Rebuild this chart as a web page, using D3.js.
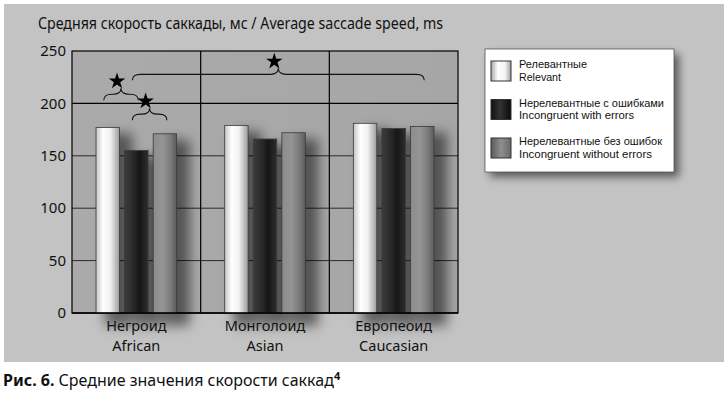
<!DOCTYPE html>
<html>
<head>
<meta charset="utf-8">
<script src="https://cdn.jsdelivr.net/npm/d3@7"></script>
<style>
  body { margin: 0; background: #fff; }
  svg { display: block; font-family: "Noto Sans", "Open Sans", sans-serif; }
</style>
</head>
<body>
<svg width="724" height="397"></svg>
<script>
// data
const groups = ["Негроид", "Монголоид", "Европеоид"];
const groupsEn = ["African", "Asian", "Caucasian"];
const series = ["rel", "incErr", "incNoErr"];
const seriesRu = ["Релевантные", "Нерелевантные с ошибками", "Нерелевантные без ошибок"];
const seriesEn = ["Relevant", "Incongruent with errors", "Incongruent without errors"];
const relevant = [177, 179, 181];
const incongruentErr = [155, 166, 176];
const incongruentNoErr = [171, 172, 178];
const yTicks = [0, 50, 100, 150, 200, 250];
// significance braces: [group, series] -> [group, series], at value level
const braces = [
  { from: [0, 0], to: [0, 1], level: 203 },
  { from: [0, 1], to: [0, 2], level: 184 },
  { from: [0, 1], to: [2, 2], level: 222 }
];

const values = [relevant, incongruentErr, incongruentNoErr];

const svg = d3.select("svg");
const defs = svg.append("defs");

// plot box
const pLeft = 72, pRight = 458, pTop = 51, pBottom = 313;

const y = d3.scaleLinear().domain([0, 250]).range([pBottom, pTop]);
const x0 = d3.scaleBand().domain(groups).range([pLeft, pRight]);
const x1 = d3.scaleBand().domain(series).range([0, x0.bandwidth()])
  .paddingInner(0.18).paddingOuter(0.84);

// gradients for the cylinder-like bars
function grad(id, stops) {
  const g = defs.append("linearGradient").attr("id", id)
    .attr("x1", "0%").attr("x2", "100%").attr("y1", "0%").attr("y2", "0%");
  stops.forEach(s => g.append("stop").attr("offset", s[0]).attr("stop-color", s[1]));
}
grad("g-rel", [["0%", "#c4c4c4"], ["30%", "#ffffff"], ["60%", "#f2f2f2"], ["100%", "#9c9c9c"]]);
grad("g-incErr", [["0%", "#3c3c3c"], ["35%", "#2a2a2a"], ["65%", "#161616"], ["100%", "#2e2e2e"]]);
grad("g-incNoErr", [["0%", "#8c8c8c"], ["40%", "#959595"], ["75%", "#7a7a7a"], ["100%", "#5c5c5c"]]);
grad("g-bg", [["0%", "#aaaaaa"], ["100%", "#a6a6a6"]]);

const blur = defs.append("filter").attr("id", "shadow")
  .attr("x", "-50%").attr("y", "-20%").attr("width", "250%").attr("height", "150%");
blur.append("feGaussianBlur").attr("stdDeviation", 6);

const boxShadow = defs.append("filter").attr("id", "boxshadow")
  .attr("x", "-20%").attr("y", "-20%").attr("width", "150%").attr("height", "150%");
boxShadow.append("feGaussianBlur").attr("stdDeviation", 4);

// outer panel
svg.append("rect").attr("x", 4).attr("y", 4).attr("width", 720).attr("height", 358)
  .attr("fill", "#c3c3c3");

// plot background
svg.append("rect").attr("x", pLeft).attr("y", pTop)
  .attr("width", pRight - pLeft).attr("height", pBottom - pTop)
  .attr("fill", "url(#g-bg)");

// horizontal grid
svg.append("g").selectAll("line").data(yTicks.slice(1, -1)).join("line")
  .attr("x1", pLeft).attr("x2", pRight)
  .attr("y1", d => y(d)).attr("y2", d => y(d))
  .attr("stroke", d => d === 200 ? "#000" : "#2a2a2a")
  .attr("stroke-width", d => d === 200 ? 1.2 : 1);

// group separators
svg.append("g").selectAll("line").data(groups.slice(1)).join("line")
  .attr("x1", d => x0(d)).attr("x2", d => x0(d))
  .attr("y1", pTop).attr("y2", pBottom)
  .attr("stroke", "#000").attr("stroke-width", 1.2);

const flat = [];
groups.forEach((g, gi) => series.forEach((s, si) => {
  flat.push({ g, s, gi, si, v: values[si][gi] });
}));

// soft shadows to the right of the bars
svg.append("g").attr("filter", "url(#shadow)")
  .selectAll("rect").data(flat).join("rect")
  .attr("x", d => x0(d.g) + x1(d.s) + 9)
  .attr("y", d => y(d.v) + 6)
  .attr("width", x1.bandwidth() + 4)
  .attr("height", d => y(0) - y(d.v) + 7)
  .attr("fill", "#000").attr("opacity", 0.5);

// plot frame
svg.append("rect").attr("x", pLeft).attr("y", pTop)
  .attr("width", pRight - pLeft).attr("height", pBottom - pTop)
  .attr("fill", "none").attr("stroke", "#000").attr("stroke-width", 1.2);

// bars
svg.append("g").selectAll("rect").data(flat).join("rect")
  .attr("x", d => x0(d.g) + x1(d.s))
  .attr("y", d => y(d.v))
  .attr("width", x1.bandwidth())
  .attr("height", d => y(0) - y(d.v))
  .attr("fill", d => `url(#g-${d.s})`)
  .attr("stroke", "#3a3a3a").attr("stroke-width", 0.8);

// bottom axis line
svg.append("line").attr("x1", pLeft).attr("x2", pRight)
  .attr("y1", pBottom).attr("y2", pBottom)
  .attr("stroke", "#000").attr("stroke-width", 1.5);

// y tick labels
svg.append("g").selectAll("text").data(yTicks).join("text")
  .attr("x", pLeft - 6).attr("y", d => y(d)).attr("dy", "0.35em")
  .attr("text-anchor", "end").attr("font-size", 15).attr("fill", "#111")
  .text(d => d);

// category labels
const cat = svg.append("g").selectAll("text").data(groups).join("text")
  .attr("text-anchor", "middle").attr("font-size", 14.5).attr("fill", "#111");
cat.append("tspan").attr("x", d => x0(d) + x0.bandwidth() / 2).attr("y", 331).text(d => d);
cat.append("tspan").attr("x", d => x0(d) + x0.bandwidth() / 2).attr("y", 351)
  .text((d, i) => groupsEn[i]);

// title
svg.append("text").attr("x", 38).attr("y", 29).attr("font-size", 15.5).attr("fill", "#111")
  .attr("textLength", 405).attr("lengthAdjust", "spacingAndGlyphs")
  .text("Средняя скорость саккады, мс / Average saccade speed, ms");

// significance braces
function bracePath(xa, xb, yb, h) {
  const xm = (xa + xb) / 2, q = Math.min(8, (xb - xa) / 4), hy = yb - h / 2;
  return `M${xa},${yb} Q${xa},${hy} ${xa + q},${hy} L${xm - q},${hy} Q${xm},${hy} ${xm},${yb - h}` +
         ` Q${xm},${hy} ${xm + q},${hy} L${xb - q},${hy} Q${xb},${hy} ${xb},${yb}`;
}
const star = d3.symbol().type(d3.symbolStar).size(85);
const bg = svg.append("g");
braces.forEach(b => {
  const xa = x0(groups[b.from[0]]) + x1(series[b.from[1]]) + x1.bandwidth() / 2 - 4;
  const xb = x0(groups[b.to[0]]) + x1(series[b.to[1]]) + x1.bandwidth() / 2 + 2;
  const yb = y(b.level);
  bg.append("path").attr("d", bracePath(xa, xb, yb, 12))
    .attr("fill", "none").attr("stroke", "#111").attr("stroke-width", 1.1);
  bg.append("path").attr("d", star)
    .attr("transform", `translate(${(xa + xb) / 2 - 4},${yb - 19})`)
    .attr("fill", "#000");
});

// legend
const lg = svg.append("g").attr("transform", "translate(485,49)");
lg.append("rect").attr("x", 5).attr("y", 5).attr("width", 189).attr("height", 123)
  .attr("fill", "#000").attr("opacity", 0.55).attr("filter", "url(#boxshadow)");
lg.append("rect").attr("width", 189).attr("height", 123)
  .attr("fill", "#fff").attr("stroke", "#555").attr("stroke-width", 0.8);
grad("l-rel", [["0%", "#a8a8a8"], ["35%", "#ffffff"], ["70%", "#f4f4f4"], ["100%", "#a0a0a0"]]);
grad("l-incErr", [["0%", "#111"], ["45%", "#333"], ["100%", "#0a0a0a"]]);
grad("l-incNoErr", [["0%", "#5a5a5a"], ["50%", "#8e8e8e"], ["100%", "#6a6a6a"]]);
const ruW = [68, 145, 143], enW = [42, 115, 133];
const li = lg.selectAll("g.item").data(series).join("g").attr("class", "item")
  .attr("transform", (d, i) => `translate(0,${12 + i * 38.5})`);
li.append("rect").attr("x", 6).attr("width", 20).attr("height", 20)
  .attr("fill", d => `url(#l-${d})`).attr("stroke", "#333").attr("stroke-width", 1);
const lt = li.append("text").attr("font-family", "'Liberation Sans', Arial, sans-serif")
  .attr("font-size", 11).attr("fill", "#111");
lt.append("tspan").attr("x", 34).attr("y", 7)
  .attr("textLength", (d, i) => ruW[i]).attr("lengthAdjust", "spacingAndGlyphs")
  .text((d, i) => seriesRu[i]);
lt.append("tspan").attr("x", 34).attr("y", 19.5)
  .attr("textLength", (d, i) => enW[i]).attr("lengthAdjust", "spacingAndGlyphs")
  .text((d, i) => seriesEn[i]);

// caption
const cap = svg.append("text").attr("x", 3).attr("y", 386).attr("font-size", 16).attr("fill", "#111");
cap.append("tspan").attr("font-weight", "bold").text("Рис. 6.");
cap.append("tspan").text(" Средние значения скорости саккад");
cap.append("tspan").attr("font-size", 11).attr("font-weight", "bold").attr("dy", -6).text("4");
</script>
</body>
</html>
